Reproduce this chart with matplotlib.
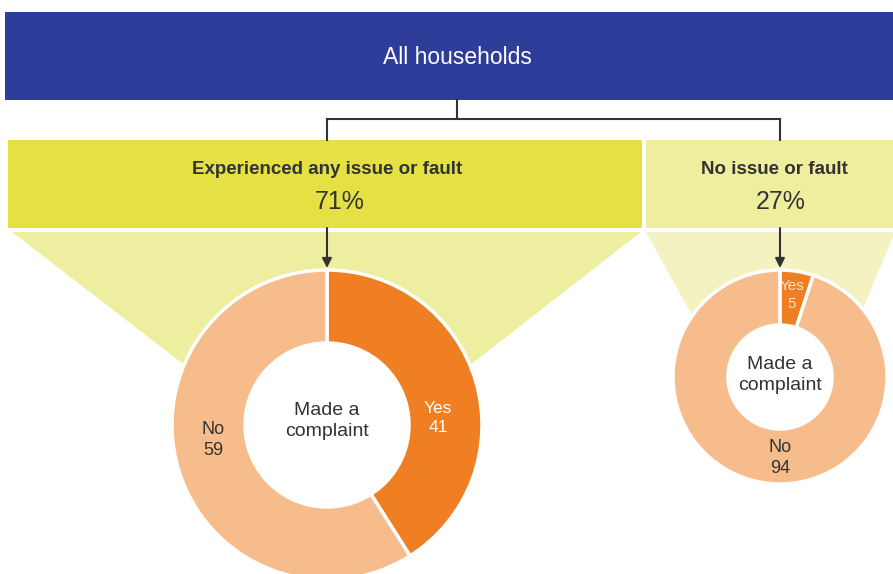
import matplotlib.pyplot as plt
from matplotlib.patches import Rectangle, Polygon, Circle

W, H = 893, 574

top_label = 'All households'
group_labels = ['Experienced any issue or fault', 'No issue or fault']
group_shares = [71, 27]
slice_labels = ['Yes', 'No']
complaint_issue = [41, 59]
complaint_no_issue = [5, 94]

blue = '#2e3d9a'
box_colors = ['#e5e043', '#efee9e']
fan_colors = ['#eeeea0', '#f3f2c0']
pie_colors = ['#ef7f22', '#f6bc8b']
dark = '#333333'

plt.rcParams['font.family'] = ['Liberation Sans', 'DejaVu Sans']


def Y(y):
    # pixel rows from the top -> data y
    return H - y


fig = plt.figure(figsize=(W / 100, H / 100), dpi=100)
ax = fig.add_axes([0, 0, 1, 1])

# banner
ax.add_patch(Rectangle((5, Y(100)), W - 5, 88, color=blue, lw=0))
ax.text(457, Y(57), top_label, color='white', fontsize=16.5, ha='center', va='center')

# connectors
ax.plot([457, 457], [Y(100), Y(119)], color=dark, lw=1.5)
ax.plot([327, 780], [Y(119), Y(119)], color=dark, lw=1.5)
ax.plot([327, 327], [Y(119), Y(140)], color=dark, lw=1.5)
ax.plot([780, 780], [Y(119), Y(140)], color=dark, lw=1.5)

# group boxes
ax.add_patch(Rectangle((8, Y(228)), 634, 88, color=box_colors[0], lw=0))
ax.add_patch(Rectangle((646, Y(228)), W - 646, 88, color=box_colors[1], lw=0))
ax.text(327, Y(169), group_labels[0], color=dark, fontsize=13.5, weight='bold', ha='center', va='center')
ax.text(340, Y(202), f'{group_shares[0]}%', color=dark, fontsize=18, ha='center', va='center')
ax.text(774, Y(169), group_labels[1], color=dark, fontsize=13.5, weight='bold', ha='center', va='center')
ax.text(781, Y(202), f'{group_shares[1]}%', color=dark, fontsize=18, ha='center', va='center')

# fans below boxes
ax.add_patch(Polygon([(12, Y(232)), (641, Y(232)), (438, Y(390)), (217, Y(390))],
                     closed=True, color=fan_colors[0], lw=0))
ax.add_patch(Polygon([(646, Y(232)), (895, Y(232)), (854, Y(330)), (700, Y(330))],
                     closed=True, color=fan_colors[1], lw=0))

# arrows
for x in (327, 780):
    ax.annotate('', xy=(x, Y(268)), xytext=(x, Y(228)),
                arrowprops=dict(arrowstyle='-|>', color=dark, lw=1.5,
                                mutation_scale=14, shrinkA=0, shrinkB=0))

# donuts
ax.pie(complaint_issue, radius=155, center=(327, Y(425)), startangle=90,
       counterclock=False, colors=pie_colors,
       wedgeprops=dict(width=73, edgecolor='white', linewidth=2.5))
ax.pie(complaint_no_issue, radius=107, center=(780, Y(377)), startangle=90,
       counterclock=False, colors=pie_colors,
       wedgeprops=dict(width=55, edgecolor='white', linewidth=2.5))
# keep the fans out of the holes
ax.add_patch(Circle((327, Y(425)), 82, color='white', lw=0))
ax.add_patch(Circle((780, Y(377)), 52, color='white', lw=0))

ax.text(327, Y(421), 'Made a\ncomplaint', color=dark, fontsize=14, ha='center', va='center',
        linespacing=1.35)
ax.text(438, Y(418), f'{slice_labels[0]}\n{complaint_issue[0]}', color='white', fontsize=12.5,
        ha='center', va='center', linespacing=1.4)
ax.text(213, Y(440), f'{slice_labels[1]}\n{complaint_issue[1]}', color=dark, fontsize=13,
        ha='center', va='center', linespacing=1.35)

ax.text(780, Y(375), 'Made a\ncomplaint', color=dark, fontsize=14, ha='center', va='center',
        linespacing=1.35)
ax.text(792, Y(295), f'{slice_labels[0]}\n{complaint_no_issue[0]}', color='#fbe3cf', fontsize=11,
        ha='center', va='center', linespacing=1.35)
ax.text(780, Y(458), f'{slice_labels[1]}\n{complaint_no_issue[1]}', color=dark, fontsize=13,
        ha='center', va='center', linespacing=1.35)

ax.set_xlim(0, W)
ax.set_ylim(0, H)
ax.set_aspect('equal')
ax.axis('off')

fig.savefig('out.png', dpi=100)
